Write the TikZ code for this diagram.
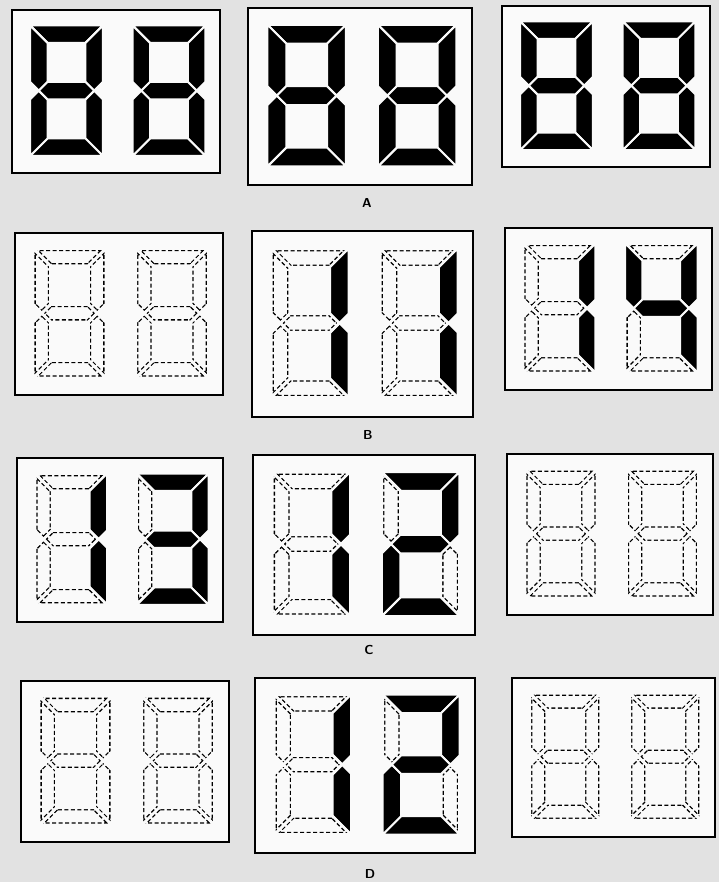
\documentclass[tikz,border=0pt]{standalone}
\usepackage{tikz}
\definecolor{bggrey}{RGB}{226,226,226}
\definecolor{panelwhite}{RGB}{250,250,250}
\tikzset{
  frame/.style={draw=black, line width=2.4pt, fill=panelwhite},
  offseg/.style={draw=black, line width=5.4pt, dash pattern=on 4pt off 2.5pt},
  offmask/.style={draw=panelwhite, line width=2.8pt},
  onseg/.style={fill=black},
  onmask/.style={draw=panelwhite, line width=2pt},
  lbl/.style={font=\sffamily\bfseries\fontsize{13}{13}\selectfont, inner sep=0pt}
}
\newcommand\parseflags[7]{\def\fa{#1}\def\fb{#2}\def\fc{#3}\def\fd{#4}\def\fe{#5}\def\ff{#6}\def\fg{#7}}
\newcommand\oneseg[2]{%
  \ifnum#1=1
    \fill[onseg] #2 -- cycle;
    \draw[onmask] #2 -- cycle;
  \else
    \begin{scope}
      \clip #2 -- cycle;
      \draw[offseg] #2 -- cycle;
    \end{scope}
    \draw[offmask] #2 -- cycle;
  \fi}
\newcommand\sdigit[5]{%
  \pgfmathsetmacro\dW{#3}\pgfmathsetmacro\dH{#4}%
  \pgfmathsetmacro\dt{0.24*\dW}\pgfmathsetmacro\dh{\dt/2}\pgfmathsetmacro\dm{\dH/2}%
  \pgfmathsetmacro\dWt{\dW-\dt}\pgfmathsetmacro\dWh{\dW-\dh}%
  \pgfmathsetmacro\dHt{\dH-\dt}\pgfmathsetmacro\dmu{\dm-\dh}\pgfmathsetmacro\dmd{\dm+\dh}%
  \parseflags#5%
  \begin{scope}[shift={(#1,-#2)}, yscale=-1]
    \oneseg{\fa}{(0,0) -- (\dW,0) -- (\dWt,\dt) -- (\dt,\dt)}
    \oneseg{\fb}{(\dW,0) -- (\dW,\dmu) -- (\dWh,\dm) -- (\dWt,\dmu) -- (\dWt,\dt)}
    \oneseg{\fc}{(\dW,\dH) -- (\dW,\dmd) -- (\dWh,\dm) -- (\dWt,\dmd) -- (\dWt,\dHt)}
    \oneseg{\fd}{(0,\dH) -- (\dW,\dH) -- (\dWt,\dHt) -- (\dt,\dHt)}
    \oneseg{\fe}{(0,\dH) -- (0,\dmd) -- (\dh,\dm) -- (\dt,\dmd) -- (\dt,\dHt)}
    \oneseg{\ff}{(0,0) -- (0,\dmu) -- (\dh,\dm) -- (\dt,\dmu) -- (\dt,\dt)}
    \oneseg{\fg}{(\dh,\dm) -- (\dt,\dmu) -- (\dWt,\dmu) -- (\dWh,\dm) -- (\dWt,\dmd) -- (\dt,\dmd)}
  \end{scope}}
\newcommand\panel[6]{%
  \draw[frame] (#1,-#2) rectangle (#3,-#4);
  \pgfmathsetmacro\pw{#3-#1}\pgfmathsetmacro\ph{#4-#2}%
  \pgfmathsetmacro\lx{#1+0.087*\pw}%
  \pgfmathsetmacro\dy{#2+0.095*\ph}%
  \pgfmathsetmacro\dw{0.35*\pw}\pgfmathsetmacro\dhh{0.80*\ph}%
  \sdigit{\lx}{\dy}{\dw}{\dhh}{#5}%
  \pgfmathsetmacro\dw{0.35*\pw}\pgfmathsetmacro\dhh{0.80*\ph}%
  \pgfmathsetmacro\rx{#1+0.58*\pw}\pgfmathsetmacro\dy{#2+0.095*\ph}%
  \sdigit{\rx}{\dy}{\dw}{\dhh}{#6}}
\begin{document}
\begin{tikzpicture}[x=1pt, y=1pt]
  \fill[bggrey] (0,0) rectangle (719,-882);
  \useasboundingbox (0,0) rectangle (719,-882);
  % Row A
  \panel{12}{10}{220}{173}{1111111}{1111111}
  \panel{248}{8}{472}{185}{1111111}{1111111}
  \panel{502}{6}{710}{167}{1111111}{1111111}
  \node[lbl] (labA) at (367,-203) {A};
  % Row B
  \panel{15}{233}{223}{395}{0000000}{0000000}
  \panel{252}{231}{473}{417}{0110000}{0110000}
  \panel{505}{228}{712}{390}{0110000}{0110011}
  \node[lbl] (labB) at (368,-435) {B};
  % Row C
  \panel{17}{458}{223}{622}{0110000}{1111001}
  \panel{253}{455}{475}{635}{0110000}{1101101}
  \panel{507}{454}{713}{615}{0000000}{0000000}
  \node[lbl] (labC) at (369,-650) {C};
  % Row D
  \panel{21}{681}{229}{842}{0000000}{0000000}
  \panel{255}{678}{475}{853}{0110000}{1101101}
  \panel{512}{678}{715}{837}{0000000}{0000000}
  \node[lbl] (labD) at (370,-874) {D};
\end{tikzpicture}
\end{document}
